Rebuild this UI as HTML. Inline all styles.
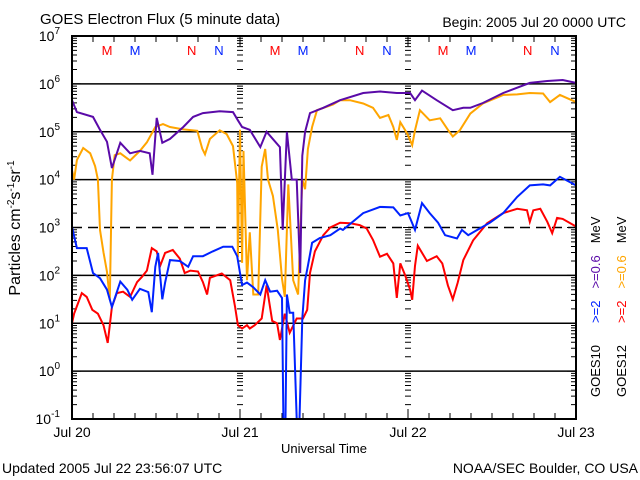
<!DOCTYPE html>
<html><head><meta charset="utf-8"><style>
body{margin:0;background:#fff}
svg{display:block;font-family:"Liberation Sans",sans-serif}
</style></head><body>
<svg id="chart" width="640" height="480" viewBox="0 0 640 480">
<text x="40" y="24" font-size="15">GOES Electron Flux (5 minute data)</text>
<text x="626" y="27" font-size="14" text-anchor="end">Begin: 2005 Jul 20 0000 UTC</text>
<g id="grid"></g><g id="ticks"></g><g id="series"></g><g id="marks"></g>
<rect x="72" y="36" width="504" height="383" fill="none" stroke="#000" stroke-width="2"/>
<g id="ylabels" font-size="14"></g>
<g id="xlabels" font-size="14"></g>
<text transform="translate(20,228) rotate(-90)" text-anchor="middle" font-size="16">Particles cm<tspan dy="-6" font-size="10">-2</tspan><tspan dy="6">s</tspan><tspan dy="-6" font-size="10">-1</tspan><tspan dy="6">sr</tspan><tspan dy="-6" font-size="10">-1</tspan></text>
<text x="324" y="453" text-anchor="middle" font-size="13">Universal Time</text>
<text x="2" y="473" font-size="14">Updated 2005 Jul 22 23:56:07 UTC</text>
<text x="638" y="473" font-size="14" text-anchor="end">NOAA/SEC Boulder, CO USA</text>
<g font-size="13">
<text transform="translate(600,397) rotate(-90)"><tspan>GOES10</tspan><tspan dx="22" fill="#0022ff">&gt;=2</tspan><tspan dx="12" fill="#5a0aa8">&gt;=0.6</tspan><tspan dx="12">MeV</tspan></text>
<text transform="translate(626,397) rotate(-90)"><tspan>GOES12</tspan><tspan dx="22" fill="#ff0000">&gt;=2</tspan><tspan dx="12" fill="#ffa500">&gt;=0.6</tspan><tspan dx="12">MeV</tspan></text>
</g>
</svg>
<script>
const hPurple=[0,0.7,3,4,5,5.7,6.9,8.3,9.7,11.1,11.5,12.1,12.9,14,15.9,17.3,18.7,21.1,23,23.7,24.3,25.4,26.9,27.8,29.7,30.1,30.7,31.4,32.1,32.6,32.9,33.3,34,35.9,38.3,41.6,44,46.4,48.3,49,50,52.1,54.4,55.9,56.9,58.7,61.6,65.4,67.9,70.1,72];
const vPurple=[5.66,5.41,5.31,5.04,4.79,4.24,4.77,4.55,4.6,4.55,4.1,5.29,4.77,4.85,5.1,5.31,5.39,5.43,5.41,5.24,5.1,5.04,4.68,5.0,4.68,2.95,5.0,4.0,4.0,2.05,4.5,5.0,5.39,5.5,5.66,5.81,5.84,5.81,5.81,5.66,5.86,5.66,5.45,5.5,5.5,5.6,5.81,6.02,6.06,6.08,6.02];
const hOrange=[0,0.3,0.7,1.6,2.6,3.3,3.7,4,4.5,5,5.4,5.7,6.1,6.9,8.3,9.7,10.7,11.9,13,14,15.9,17.9,18.6,19,19.7,21.1,22.1,23,23.6,23.7,24,24.3,24.5,25,25.4,25.9,26.6,27.1,27.6,28,28.7,29.4,30,30.4,30.9,31.6,32.3,32.9,33.3,33.7,34.3,35,37.3,38.3,39.7,41.6,43,44,45.2,45.9,46.4,46.9,47.9,48.6,49,49.7,51.1,52.6,53.7,54.4,55.4,56.9,58.7,61.6,63.6,65.4,67.3,68.3,69.7,72];
const vOrange=[4.2,4.0,4.41,4.66,4.55,4.28,4.0,2.95,2.48,2.07,1.49,4.0,4.51,4.55,4.4,4.6,4.78,5.1,5.16,5.1,5.05,5.02,4.65,4.53,4.85,5.03,4.95,4.7,3.93,2.38,5.04,2.26,4.6,1.9,2.9,1.6,1.6,4.27,4.64,4.0,3.66,2.95,1.93,1.55,3.9,1.9,1.6,4.0,3.8,4.64,5.1,5.45,5.57,5.66,5.66,5.59,5.5,5.29,5.35,5.1,4.83,5.2,4.96,4.72,5.03,5.45,5.24,5.28,5.04,4.9,5.03,5.38,5.59,5.77,5.78,5.81,5.8,5.62,5.77,5.62];
const hBlue=[0,0.7,2.1,3,4,5,5.7,6.9,7.9,8.6,9.7,10.9,11.4,11.9,12.3,12.9,13.3,14,15.4,16.6,17.3,18.7,20.1,21.6,22.9,23.6,24,24.3,25,25.9,26.9,27.6,28.3,29.3,30,30.2,30.5,30.7,31.1,31.6,32.1,32.5,32.9,33.3,33.7,34.3,35.4,36.9,38.3,38.7,41.6,44,45.9,46.9,48,49,50,51.1,52.3,53.3,55,55.7,56.6,57.9,59.7,61.6,63.6,65.4,67.3,68.3,69.7,71.1,72];
const vBlue=[3.01,2.57,2.57,2.05,1.94,1.7,1.34,1.87,1.7,1.49,1.72,1.65,1.23,2.18,2.47,1.5,1.85,2.32,2.3,2.18,2.4,2.4,2.5,2.6,2.6,2.4,2.05,1.8,1.85,1.75,1.6,1.9,1.66,1.68,1.53,-1,-1,1.6,1.22,1.22,-1,-1,1.1,1.9,2.2,2.68,2.78,2.84,2.98,2.95,3.3,3.43,3.42,3.25,3.3,2.95,3.51,3.3,3.1,2.84,2.77,2.95,2.84,2.95,3.1,3.3,3.64,3.88,3.9,3.88,4.06,3.95,3.88];
const hRed=[0,0.3,1.4,2.1,2.9,3.7,4.5,5.1,5.4,5.7,6.4,7.3,8.3,9.3,10,10.7,11.4,12.1,12.6,13.3,14.4,15.4,16.1,16.9,18,18.7,19.3,19.7,21.4,22.6,23.3,23.7,24.3,25,25.4,26.1,27.1,27.8,28.6,29.3,29.7,30.4,31.1,32.1,33,33.6,34,34.7,35.9,36.9,38.3,39.7,41.1,42.1,43,44,45,45.9,46.4,46.9,47.6,48.3,48.6,49,49.4,50.7,52.1,52.9,53.7,54.4,55.1,55.9,57.3,59.3,61.6,63.6,65,65.4,65.9,66.9,67.9,68.6,69.3,70.1,72];
const vRed=[1.0,1.2,1.63,1.55,1.28,1.2,0.96,0.59,0.96,1.34,1.63,1.66,1.55,1.86,1.97,2.1,2.57,2.5,2.2,2.47,2.53,2.35,2.05,2.1,2.08,1.86,1.6,1.95,2.04,1.9,1.34,0.96,0.89,0.96,0.89,0.96,1.1,1.79,1.05,1.0,0.65,1.2,0.8,1.1,1.1,1.28,2.05,2.5,2.84,3.0,3.1,3.09,3.05,2.98,2.74,2.39,2.45,2.25,1.53,2.25,2.0,1.7,1.49,2.2,2.62,2.3,2.4,2.25,1.79,1.5,1.85,2.32,2.73,3.09,3.3,3.39,3.36,3.12,3.36,3.39,3.12,2.88,3.2,3.18,3.02];
const decades=[7,6,5,4,3,2,1,0,-1];
const dayLabels=["Jul 20","Jul 21","Jul 22","Jul 23"];
const markerHours=[5,9,17.1,21];
const markerText=["M","M","N","N"];
const markerColors=["#ff0000","#0022ff","#ff0000","#0022ff"];

const NS="http://www.w3.org/2000/svg";
const X0=72,X1=576,Y0=36,Y1=419;
const xs=h=>X0+(h/72)*(X1-X0);
const ys=l=>Y0+(7-Math.max(-1,Math.min(7,l)))/8*(Y1-Y0);
function mk(tag,attrs,parent){const e=document.createElementNS(NS,tag);for(const k in attrs)e.setAttribute(k,attrs[k]);parent.appendChild(e);return e;}
const grid=document.getElementById('grid'),ticks=document.getElementById('ticks');
decades.forEach(d=>{
  if(d===7||d===-1)return;
  const l=mk('line',{x1:X0,x2:X1,y1:ys(d),y2:ys(d),stroke:'#000','stroke-width':1.5},grid);
  if(d===3)l.setAttribute('stroke-dasharray','10,6');
  
  
});
let tp='';
for(let d=-1;d<7;d++){for(let m=2;m<=9;m++){const y=ys(d+Math.log10(m));
  tp+=`M${X0} ${y}h5M${X1} ${y}h-5M${xs(24)-3} ${y}h6M${xs(48)-3} ${y}h6`;}
  const y=ys(d);tp+=`M${X0} ${y}h9M${X1} ${y}h-9M${xs(24)-5} ${y}h10M${xs(48)-5} ${y}h10`;}
for(let h=3;h<72;h+=3){const x=xs(h);const L=h%24===0?10:6;tp+=`M${x} ${Y1}v-${L}M${x} ${Y0}v${L}`;}
const tk=mk('path',{d:tp,stroke:'#000','stroke-width':1,fill:'none'},ticks);


const yl=document.getElementById('ylabels');
decades.forEach(d=>{
  const t=mk('text',{x:60,y:ys(d)+5,'text-anchor':'end'},yl);
  t.innerHTML=`10<tspan dy="-7" font-size="10">${d}</tspan>`;
  
  
});
const xl=document.getElementById('xlabels');
dayLabels.forEach((s,i)=>{
  const t=mk('text',{x:xs(i*24),y:437,'text-anchor':'middle'},xl);t.textContent=s;
  
  
});
const ser=document.getElementById('series');
function line(hh,vv,col,name){
  const p=mk('polyline',{points:hh.map((h,i)=>xs(h).toFixed(1)+','+ys(vv[i]).toFixed(1)).join(' '),fill:'none',stroke:col,'stroke-width':2,'stroke-linejoin':'miter'},ser);
  
  
}
line(hOrange,vOrange,'#ffa500','goes12-0.6mev-line');
line(hPurple,vPurple,'#5a0aa8','goes10-0.6mev-line');
line(hRed,vRed,'#ff0000','goes12-2mev-line');
line(hBlue,vBlue,'#0022ff','goes10-2mev-line');
const mg=document.getElementById('marks');
for(let day=0;day<3;day++)markerHours.forEach((h,i)=>{
  const t=mk('text',{x:xs(day*24+h),y:55,'text-anchor':'middle','font-size':13,fill:markerColors[i]},mg);
  t.textContent=markerText[i];
  
  
});
</script>
</body></html>
